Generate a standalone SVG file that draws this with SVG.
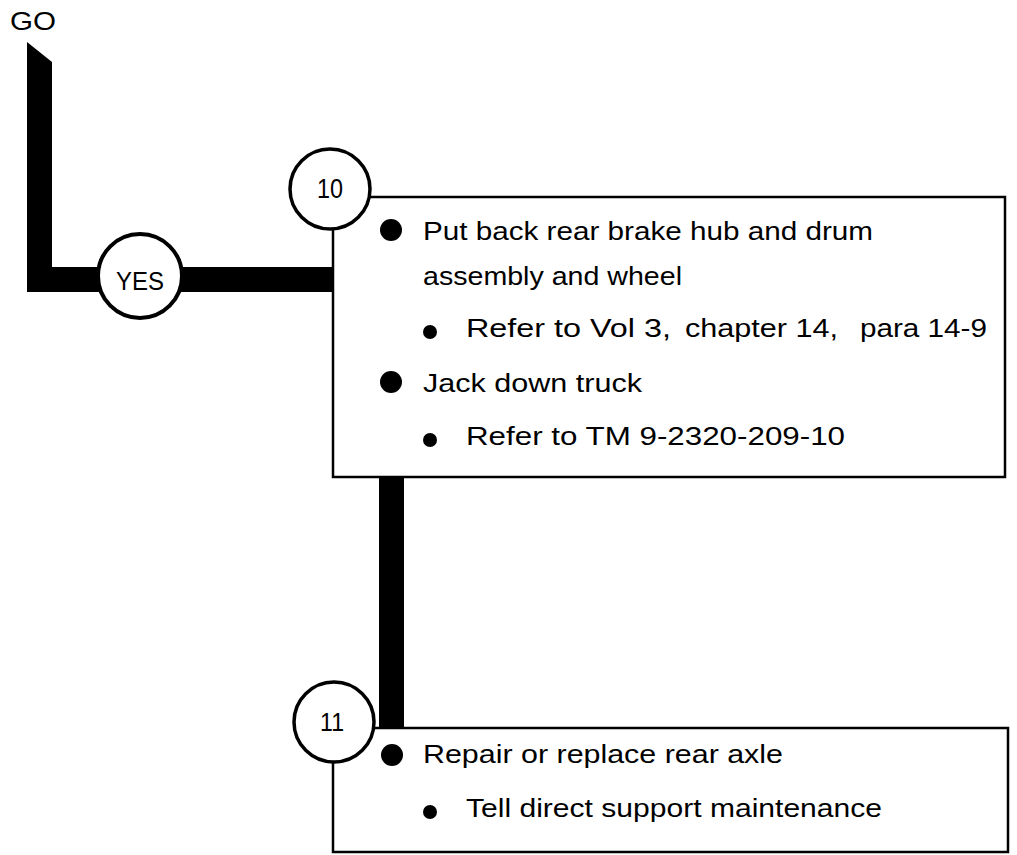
<svg xmlns="http://www.w3.org/2000/svg" width="1017" height="855" viewBox="0 0 1017 855">
<style>
.t{font-family:"Liberation Sans",Arial,sans-serif;font-size:25px;fill:#000}
.lbl{font-family:"Liberation Sans",Arial,sans-serif;fill:#000;text-anchor:middle}
.circ{fill:#fff;stroke:#000}
.box{fill:#fff;stroke:#000;stroke-width:2.5}
.thick{fill:#000}
.big{fill:#000}
</style>
<rect width="1017" height="855" fill="#fff"/>
<text id="go" class="lbl" x="33" y="30" font-size="25" textLength="46" lengthAdjust="spacingAndGlyphs">GO</text>
<g id="connectors">
<path class="thick" d="M27,42 L52,62 L52,267 L335,267 L335,292 L27,292 Z"/>
<rect class="thick" x="379" y="476" width="25" height="253"/>
</g>
<g id="yes">
<circle class="circ" cx="140" cy="276" r="42" stroke-width="4"/>
<text class="lbl" x="140" y="290" font-size="25" textLength="48" lengthAdjust="spacingAndGlyphs">YES</text>
</g>
<g id="step10">
<path class="box" d="M369,197 L1005,197 L1005,477 L333,477 L333,229"/>
<circle class="circ" cx="330" cy="189" r="40" stroke-width="3.5"/>
<text class="lbl" x="330" y="198" font-size="27" textLength="26" lengthAdjust="spacingAndGlyphs">10</text>
<circle class="big" cx="391" cy="230" r="11"/>
<text class="t" x="423" y="240" textLength="450" lengthAdjust="spacingAndGlyphs">Put back rear brake hub and drum</text>
<text class="t" x="423" y="285" textLength="259" lengthAdjust="spacingAndGlyphs">assembly and wheel</text>
<circle class="big" cx="430" cy="332" r="7"/>
<text class="t" y="337"><tspan x="466" textLength="205" lengthAdjust="spacingAndGlyphs">Refer to Vol 3,</tspan><tspan x="685" textLength="153" lengthAdjust="spacingAndGlyphs">chapter 14,</tspan><tspan x="860" textLength="127" lengthAdjust="spacingAndGlyphs">para 14-9</tspan></text>
<circle class="big" cx="391" cy="382" r="11"/>
<text class="t" x="423" y="392" textLength="219" lengthAdjust="spacingAndGlyphs">Jack down truck</text>
<circle class="big" cx="430" cy="440" r="7"/>
<text class="t" x="466" y="445" textLength="379" lengthAdjust="spacingAndGlyphs">Refer to TM 9-2320-209-10</text>
</g>
<g id="step11">
<path class="box" d="M374,728 L1008,728 L1008,852 L333,852 L333,762"/>
<circle class="circ" cx="334" cy="722" r="40" stroke-width="3.5"/>
<text class="lbl" x="332" y="731" font-size="26" textLength="24" lengthAdjust="spacingAndGlyphs">11</text>
<circle class="big" cx="392" cy="755" r="11"/>
<text class="t" x="423" y="763" textLength="360" lengthAdjust="spacingAndGlyphs">Repair or replace rear axle</text>
<circle class="big" cx="430" cy="812" r="7"/>
<text class="t" x="466" y="817" textLength="416" lengthAdjust="spacingAndGlyphs">Tell direct support maintenance</text>
</g>
</svg>
